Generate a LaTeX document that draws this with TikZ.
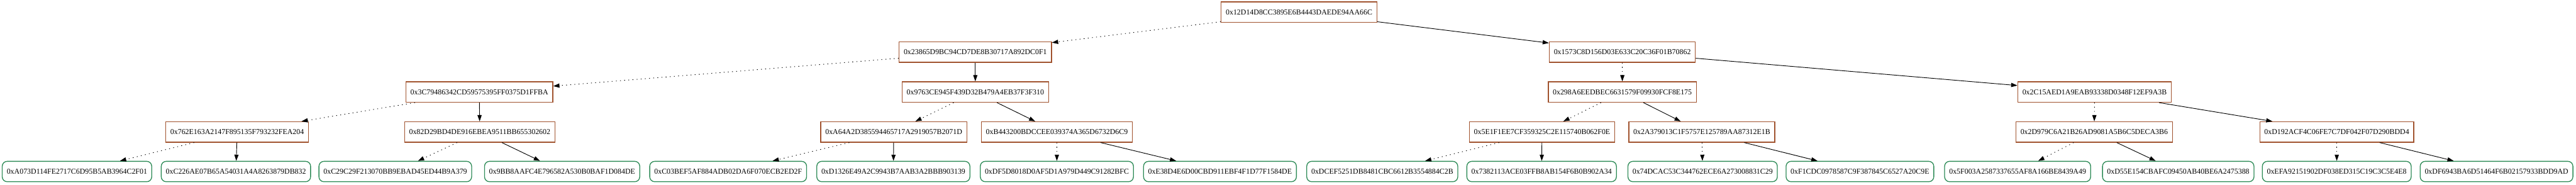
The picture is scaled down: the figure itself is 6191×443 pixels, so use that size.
\documentclass[tikz,border=0pt]{standalone}
\usepackage{fontspec}
\setmainfont{Liberation Serif}
\usetikzlibrary{arrows.meta}

\definecolor{nodebrown}{RGB}{160,82,45}
\definecolor{leafgreen}{RGB}{46,139,87}

\begin{document}
\begin{tikzpicture}[
    x=0.5pt, y=-0.5pt,
    every node/.style={font=\fontsize{9}{10}\selectfont, minimum height=24.5pt, inner xsep=5.5pt},
    hashbox/.style={draw=nodebrown, line width=1pt},
    leafbox/.style={draw=leafgreen, line width=1pt, rounded corners=6pt},
    hiedge/.style={-{Triangle[length=7.5pt,width=5pt]}, line width=0.7pt},
    loedge/.style={hiedge, dash pattern=on 1pt off 4pt},
  ]
  \useasboundingbox (0,0) rectangle (6191,443);

  % hash nodes
  \node[hashbox] (root) at (3122,29) {0x12D14D8CC3895E6B4443DAEDE94AA66C};

  \node[hashbox] (h10) at (2344,125) {0x23865D9BC94CD7DE8B30717A892DC0F1};
  \node[hashbox] (h11) at (3899,125) {0x1573C8D156D03E633C20C36F01B70862};

  \node[hashbox] (h20) at (1152,221) {0x3C79486342CD59575395FF0375D1FFBA};
  \node[hashbox] (h21) at (2344,221) {0x9763CE945F439D32B479A4EB37F3F310};
  \node[hashbox] (h22) at (3899,221) {0x298A6EEDBEC6631579F09930FCF8E175};
  \node[hashbox] (h23) at (5034,221) {0x2C15AED1A9EAB93338D0348F12EF9A3B};

  \node[hashbox] (h30) at (570,317) {0x762E163A2147F895135F793232FEA204};
  \node[hashbox] (h31) at (1153,317) {0x82D29BD4DE916EBEA9511BB655302602};
  \node[hashbox] (h32) at (2148,317) {0xA64A2D385594465717A2919057B2071D};
  \node[hashbox] (h33) at (2540,317) {0xB443200BDCCEE039374A365D6732D6C9};
  \node[hashbox] (h34) at (3706,317) {0x5E1F1EE7CF359325C2E115740B062F0E};
  \node[hashbox] (h35) at (4090,317) {0x2A379013C1F5757E125789AA87312E1B};
  \node[hashbox] (h36) at (5033,317) {0x2D979C6A21B26AD9081A5B6C5DECA3B6};
  \node[hashbox] (h37) at (5616,317) {0xD192ACF4C06FE7C7DF042F07D290BDD4};

  % leaves
  \foreach \x/\lbl [count=\i from 0] in {
      185/0xA073D114FE2717C6D95B5AB3964C2F01,
      567/0xC226AE07B65A54031A4A8263879DB832,
      950/0xC29C29F213070BB9EBAD45ED44B9A379,
      1351/0x9BB8AAFC4E796582A530B0BAF1D084DE,
      1750/0xC03BEF5AF884ADB02DA6F070ECB2ED2F,
      2147/0xD1326E49A2C9943B7AAB3A2BBB903139,
      2540/0xDF5D8018D0AF5D1A979D449C91282BFC,
      2932/0xE38D4E6D00CBD911EBF4F1D77F1584DE,
      3322/0xDCEF5251DB8481CBC6612B3554884C2B,
      3705/0x7382113ACE03FFB8AB154F6B0B902A34,
      4092/0x74DCAC53C344762ECE6A273008831C29,
      4470/0xF1CDC0978587C9F387845C6527A20C9E,
      4849/0x5F003A2587337655AF8A166BE8439A49,
      5235/0xD55E154CBAFC09450AB40BE6A2475388,
      5616/0xEFA92151902DF038ED315C19C3C5E4E8,
      6000/0xDF6943BA6D51464F6B02157933BDD9AD}
    \node[leafbox] (leaf\i) at (\x,412) {\lbl};

  % edges: dotted to the left child, solid to the right child
  \foreach \p/\a/\b in {root/h10/h11,
      h10/h20/h21, h11/h22/h23,
      h20/h30/h31, h21/h32/h33, h22/h34/h35, h23/h36/h37,
      h30/leaf0/leaf1, h31/leaf2/leaf3, h32/leaf4/leaf5, h33/leaf6/leaf7,
      h34/leaf8/leaf9, h35/leaf10/leaf11, h36/leaf12/leaf13, h37/leaf14/leaf15} {
    \draw[loedge] (\p) -- (\a);
    \draw[hiedge] (\p) -- (\b);
  }
\end{tikzpicture}
\end{document}
